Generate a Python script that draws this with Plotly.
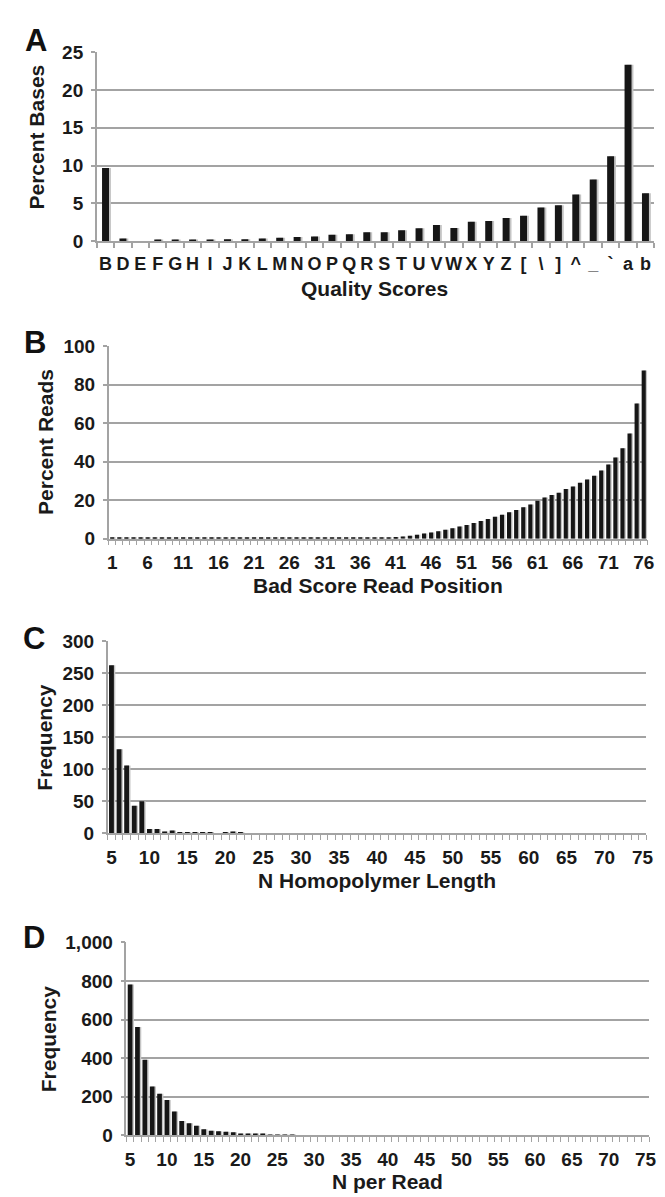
import plotly.graph_objects as go

W, H = 665, 1197

# ---------------- data ----------------
quality_labels = ["B", "D", "E", "F", "G", "H", "I", "J", "K", "L", "M", "N", "O", "P", "Q", "R",
                  "S", "T", "U", "V", "W", "X", "Y", "Z", "[", "\\", "]", "^", "_", "`", "a", "b"]
percent_bases = [9.68, 0.35, 0.0, 0.2, 0.2, 0.2, 0.15, 0.25, 0.25, 0.35, 0.43, 0.52, 0.6, 0.82, 0.91, 1.17,
                 1.17, 1.43, 1.69, 2.13, 1.74, 2.56, 2.65, 3.04, 3.34, 4.43, 4.73, 6.16, 8.16, 11.24, 23.35, 6.34]

read_position = list(range(1, 77))
percent_reads = [0.3, 0.3, 0.3, 0.3, 0.3, 0.3, 0.3, 0.3, 0.3, 0.3,
                 0.3, 0.3, 0.3, 0.3, 0.5, 0.3, 0.3, 0.3, 0.3, 0.3,
                 0.3, 0.3, 0.3, 0.3, 0.3, 0.3, 0.3, 0.3, 0.3, 0.3,
                 0.3, 0.3, 0.3, 0.3, 0.3, 0.3, 0.3, 0.3, 0.4, 0.5,
                 0.85, 1.2, 1.5, 2.0, 2.7, 3.2, 3.9, 4.6, 5.4, 6.3,
                 7.1, 8.1, 9.2, 10.2, 11.4, 12.5, 13.7, 14.9, 16.3, 17.8,
                 19.7, 21.4, 22.7, 23.9, 25.8, 27.1, 29.0, 30.7, 32.7, 35.4,
                 38.5, 42.2, 47.0, 54.6, 70.2, 87.3]
read_pos_ticks = [1, 6, 11, 16, 21, 26, 31, 36, 41, 46, 51, 56, 61, 66, 71, 76]

homopolymer_len = list(range(5, 76))
homopolymer_freq = [262, 131, 106, 43, 50, 7, 7, 3, 4.5, 1.5,
                    1.5, 2, 2, 1, 0, 1, 3, 1, 0, 0,
                    0, 0, 0, 0, 0, 0, 0, 0, 0, 0,
                    0, 0, 0, 0, 0, 0, 0, 0, 0, 0,
                    0, 0, 0, 0, 0, 0, 0, 0, 0, 0,
                    0, 0, 0, 0, 0, 0, 0, 0, 0, 0,
                    0, 0, 0, 0, 0, 0, 0, 0, 0, 0,
                    0]

n_per_read = list(range(5, 76))
n_per_read_freq = [782, 561, 391, 252, 214, 182, 122, 73, 61, 48,
                   30, 22, 20, 17, 14, 8, 7, 7, 3, 2,
                   2, 2, 1, 0, 0, 0, 0, 0, 0, 0,
                   0, 0, 0, 0, 0, 0, 0, 0, 0, 0,
                   0, 0, 0, 0, 0, 0, 0, 0, 0, 0,
                   0, 0, 0, 0, 0, 0, 0, 0, 0, 0,
                   0, 0, 0, 0, 0, 0, 0, 0, 0, 0,
                   0]
five_ticks = [5, 10, 15, 20, 25, 30, 35, 40, 45, 50, 55, 60, 65, 70, 75]

# ---------------- style ----------------
FONT = "Liberation Sans"
BAR = "#161616"
SHADOW = "#c4c4c4"
GRID = "#a3a3a3"
TICKF = dict(family=FONT, size=19, color="#1a1a1a", weight=700)

# plot areas in pixels: (x0, x1, y0_top, y1_bottom)
areas = [(88, 653, 35, 227), (100, 646, 334, 530), (99, 645, 634, 830), (118, 648, 941, 1137)]


def xd(a):
    return [a[0] / W, a[1] / W]


def yd(a):
    return [1 - a[3] / H, 1 - a[2] / H]


fig = go.Figure()
panels = [
    (quality_labels, percent_bases, 0.4, 0.11, "x", "y"),
    (read_position, percent_reads, 0.58, 0.2, "x2", "y2"),
    (homopolymer_len, homopolymer_freq, 0.64, 0.19, "x3", "y3"),
    (n_per_read, n_per_read_freq, 0.64, 0.2, "x4", "y4"),
]
for xs, ys, w, sh, xa, ya in panels:
    # soft drop shadow (Excel-style), drawn under the bars
    fig.add_trace(go.Bar(x=xs, y=ys, marker_color=SHADOW, width=w, offset=-w / 2 + sh,
                         xaxis=xa, yaxis=ya))
    fig.add_trace(go.Bar(x=xs, y=ys, marker_color=BAR, width=w, offset=-w / 2,
                         xaxis=xa, yaxis=ya))
fig.update_traces(marker_line_width=0, showlegend=False, hoverinfo="skip")

common_x = dict(showline=True, linecolor=GRID, linewidth=1.5, showgrid=False, zeroline=False,
                tickfont=TICKF, ticklabelstandoff=6, fixedrange=True, tickangle=0)
common_y = dict(showline=True, linecolor=GRID, linewidth=1.5, showgrid=True, gridcolor=GRID,
                gridwidth=1.5, zeroline=False, ticks="outside", ticklen=4, tickcolor=GRID,
                tickwidth=1.5, tickfont=TICKF, ticklabelstandoff=4, fixedrange=True)

layout = dict(
    width=W, height=H, margin=dict(l=0, r=0, t=0, b=0), barmode="overlay",
    paper_bgcolor="white", plot_bgcolor="white", showlegend=False,
    xaxis=dict(common_x, domain=xd(areas[0]), anchor="y", type="category",
               tickmode="array", tickvals=quality_labels, ticktext=quality_labels,
               tickfont=dict(TICKF, size=18),
               ticks="outside", tickson="boundaries", ticklen=5, tickcolor=GRID, tickwidth=1.5),
    yaxis=dict(common_y, domain=yd(areas[0]), anchor="x", range=[0, 25], dtick=5),
    xaxis2=dict(common_x, domain=xd(areas[1]), anchor="y2", range=[0.5, 76.5],
                tickmode="array", tickvals=read_pos_ticks, ticks="",
                minor=dict(ticks="outside", tick0=0.5, dtick=1, ticklen=5, tickcolor=GRID, tickwidth=1.2)),
    yaxis2=dict(common_y, domain=yd(areas[1]), anchor="x2", range=[0, 100], dtick=20),
    xaxis3=dict(common_x, domain=xd(areas[2]), anchor="y3", range=[4.5, 75.5],
                tickmode="array", tickvals=five_ticks, ticks="",
                minor=dict(ticks="outside", tick0=0.5, dtick=1, ticklen=5, tickcolor=GRID, tickwidth=1.2)),
    yaxis3=dict(common_y, domain=yd(areas[2]), anchor="x3", range=[0, 300], dtick=50),
    xaxis4=dict(common_x, domain=xd(areas[3]), anchor="y4", range=[4.5, 75.5],
                tickmode="array", tickvals=five_ticks, ticks="",
                minor=dict(ticks="outside", tick0=0.5, dtick=1, ticklen=5, tickcolor=GRID, tickwidth=1.2)),
    yaxis4=dict(common_y, domain=yd(areas[3]), anchor="x4", range=[0, 1000], dtick=200,
                tickformat=",d"),
)
fig.update_layout(**layout)

anns = []
# panel letters
for letter, (px, py) in zip(["A", "B", "C", "D"], [(26, 23), (25, 330), (24, 632), (24, 936)]):
    anns.append(dict(text=letter, x=px / W, y=1 - py / H, xref="paper", yref="paper",
                     xanchor="center", yanchor="middle", showarrow=False,
                     font=dict(family=FONT, size=31, color="#111", weight=700)))
# y titles
for t, (px, py) in zip(["Percent Bases", "Percent Reads", "Frequency", "Frequency"],
                       [(27, 121), (36, 432), (35, 732), (39, 1039)]):
    anns.append(dict(text=t, x=px / W, y=1 - py / H, xref="paper", yref="paper", textangle=-90,
                     xanchor="center", yanchor="middle", showarrow=False,
                     font=dict(family=FONT, size=21, color="#1a1a1a", weight=700)))
# x titles
for t, (px, py) in zip(["Quality Scores", "Bad Score Read Position", "N Homopolymer Length", "N per Read"],
                       [(370, 275), (373, 578), (372, 878), (383, 1184)]):
    anns.append(dict(text=t, x=px / W, y=1 - py / H, xref="paper", yref="paper",
                     xanchor="center", yanchor="middle", showarrow=False,
                     font=dict(family=FONT, size=21, color="#1a1a1a", weight=700)))
fig.update_layout(annotations=anns)

fig.write_html("out.html")
